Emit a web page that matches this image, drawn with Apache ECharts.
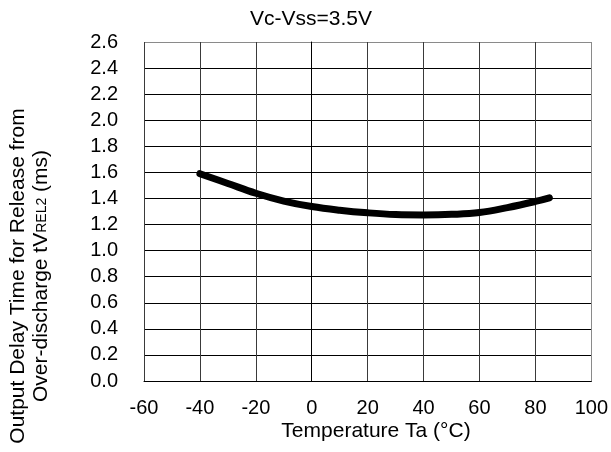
<!DOCTYPE html>
<html>
<head>
<meta charset="utf-8">
<script src="https://cdn.jsdelivr.net/npm/echarts@6/dist/echarts.min.js"></script>
<style>
  html, body { margin: 0; padding: 0; background: #fff; }
  #chart { width: 611px; height: 452px; }
</style>
</head>
<body>
<div id="chart"></div>
<script>
// Release delay after over-discharge vs. ambient temperature
const temperatures = [-40, -30, -20, -10, 0, 10, 20, 30, 40, 50, 60, 70, 80, 85];
const delayMs      = [1.59, 1.515, 1.44, 1.38, 1.338, 1.31, 1.29, 1.277, 1.274, 1.278, 1.292, 1.33, 1.377, 1.405];
const xTicks = { min: -60, max: 100, step: 20 };
const yTicks = { min: 0, max: 2.6, step: 0.2 };
const conditionLabel = 'Vc-Vss=3.5V';
const xTitle = 'Temperature Ta (°C)';
const yTitleLine1 = 'Output Delay Time for Release from';
const yTitleLine2 = ['Over-discharge tV', 'REL2', ' (ms)'];

const font = 'Liberation Sans, Arial, sans-serif';
const chart = echarts.init(document.getElementById('chart'), null, { renderer: 'canvas' });

// outer frame lines (top / right) are lighter than the inner grid
const yLineCount = Math.round((yTicks.max - yTicks.min) / yTicks.step) + 1;
const xLineCount = Math.round((xTicks.max - xTicks.min) / xTicks.step) + 1;
const yLineColors = Array.from({ length: yLineCount }, (_, i) => i === yLineCount - 1 ? '#8a8a8a' : '#000');
const xLineColors = Array.from({ length: xLineCount }, (_, i) => i === xLineCount - 1 ? '#8a8a8a' : '#3a3a3a');

chart.setOption({
  animation: false,
  backgroundColor: '#fff',
  grid: { left: 144, right: 19, top: 42, bottom: 71, containLabel: false },
  xAxis: {
    type: 'value',
    min: xTicks.min, max: xTicks.max, interval: xTicks.step,
    axisLine: { show: true, lineStyle: { color: '#000', width: 1 } },
    axisTick: { show: false },
    axisLabel: { fontFamily: font, fontSize: 20, color: '#000', margin: 17 },
    splitLine: { show: true, lineStyle: { color: xLineColors, width: 1 } }
  },
  yAxis: {
    type: 'value',
    min: yTicks.min, max: yTicks.max, interval: yTicks.step,
    axisLine: { show: true, lineStyle: { color: '#000', width: 1 } },
    axisTick: { show: false },
    axisLabel: {
      fontFamily: font, fontSize: 20, color: '#000', margin: 26,
      formatter: v => v.toFixed(1)
    },
    splitLine: { show: true, lineStyle: { color: yLineColors, width: 1 } }
  },
  graphic: [
    {
      type: 'text',
      x: 311, y: 19,
      style: {
        text: conditionLabel,
        font: '21px ' + font, fill: '#000',
        align: 'center', verticalAlign: 'middle'
      }
    },
    {
      type: 'text',
      x: 376, y: 431,
      style: {
        text: xTitle,
        font: '21px ' + font, fill: '#000',
        align: 'center', verticalAlign: 'middle'
      }
    },
    {
      type: 'text',
      x: 30, y: 276,
      rotation: Math.PI / 2,
      style: {
        text: '{a|' + yTitleLine1 + '}\n{a|' + yTitleLine2[0] + '}{s|' + yTitleLine2[1] + '}{a|' + yTitleLine2[2] + '}',
        font: '21px ' + font, fill: '#000',
        align: 'center', verticalAlign: 'middle',
        rich: {
          a: { fontFamily: font, fontSize: 21, fill: '#000', lineHeight: 23 },
          s: { fontFamily: font, fontSize: 14, fill: '#000', lineHeight: 23, verticalAlign: 'bottom', padding: [0, 0, 4, 0] }
        }
      }
    }
  ],
  series: [{
    type: 'line',
    data: temperatures.map((t, i) => [t, delayMs[i]]),
    smooth: 0.4,
    symbol: 'none',
    lineStyle: { color: '#000', width: 7, cap: 'round', join: 'round' }
  }]
});
</script>
</body>
</html>
